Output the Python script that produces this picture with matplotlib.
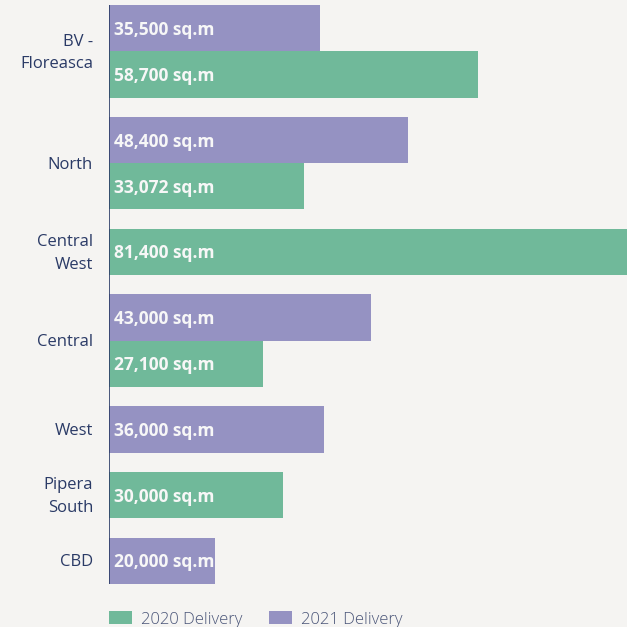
import matplotlib.pyplot as plt
from matplotlib.patches import Rectangle

regions = ["BV -\nFloreasca", "North", "Central\nWest", "Central", "West", "Pipera\nSouth", "CBD"]
delivery_2021 = [35500, 48400, None, 43000, 36000, None, 20000]
delivery_2020 = [58700, 33072, 81400, 27100, None, 30000, None]
series_names = ["2020 Delivery", "2021 Delivery"]

bg = "#f5f4f2"
c2020 = "#70b99a"
c2021 = "#9592c2"
navy = "#2a3a66"

plt.rcParams['font.family'] = ['Open Sans', 'DejaVu Sans']

fig = plt.figure(figsize=(6.27, 6.27), dpi=100, facecolor=bg)
# axes in pixel-like units: x from the value scale, y top-down
ax = fig.add_axes([109/627, 27/627, 1 - 109/627, 600/627])
ax.set_facecolor(bg)
x0 = 4400
ax.set_xlim(x0, 80620)
ax.set_ylim(600, 0)
ax.axis('off')

bar_h = 46.3
gap = 19.3
y = 5.0
first_top = y
for name, v21, v20 in zip(regions, delivery_2021, delivery_2020):
    top = y
    for val, col in ((v21, c2021), (v20, c2020)):
        if val is None:
            continue
        ax.barh(y + bar_h/2, val - x0, left=x0, height=bar_h, color=col, linewidth=0)
        ax.annotate(f"{val:,} sq.m", (x0, y + bar_h/2 + 1.5), xytext=(3.6, 0),
                    textcoords='offset points', color="#f7f7f7", fontsize=12.5,
                    fontweight='bold', va='center', ha='left')
        y += bar_h
    ax.annotate(name, (x0, (top + y)/2 + 1.5), xytext=(-11.5, 0), textcoords='offset points',
                color=navy, fontsize=12, ha='right', va='center', linespacing=1.55,
                annotation_clip=False)
    last_bottom = y
    y += gap

ax.vlines(x0, first_top, last_bottom, color=navy, linewidth=1.2)

# legend
for px, col, lab in ((109, c2020, series_names[0]), (269, c2021, series_names[1])):
    fig.patches.append(Rectangle((px/627, 1 - 624/627), 23/627, 13/627,
                                 transform=fig.transFigure, color=col, linewidth=0))
    fig.text((px + 32)/627, 1 - 620/627, lab, color="#4a5578", fontsize=12,
             fontweight='light', va='center', ha='left')

fig.savefig("out.png", dpi=100, facecolor=bg)
